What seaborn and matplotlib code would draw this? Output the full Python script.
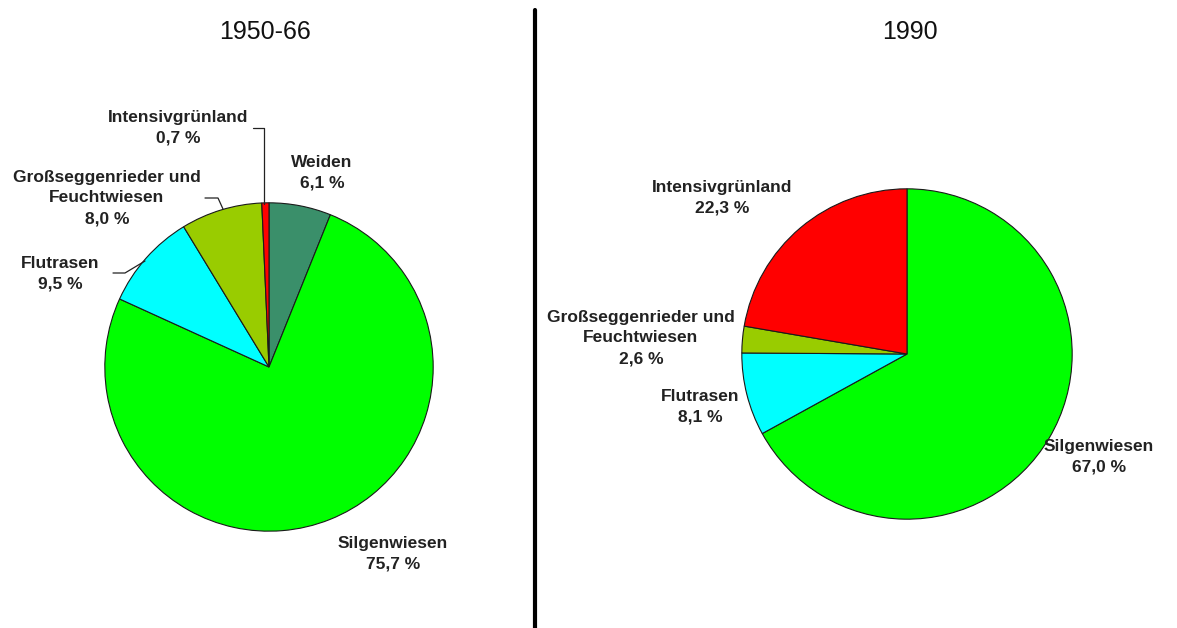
import matplotlib
matplotlib.use("Agg")
import matplotlib.pyplot as plt
from matplotlib.lines import Line2D
import seaborn as sns

sns.set_theme(style="white")
plt.rcParams['font.family'] = ['Liberation Sans', 'DejaVu Sans']

# ---- data ----
titles = ["1950-66", "1990"]
cats_1950 = ["Weiden", "Silgenwiesen", "Flutrasen", "Großseggenrieder und\nFeuchtwiesen", "Intensivgrünland"]
vals_1950 = [6.1, 75.7, 9.5, 8.0, 0.7]
cats_1990 = ["Silgenwiesen", "Flutrasen", "Großseggenrieder und\nFeuchtwiesen", "Intensivgrünland"]
vals_1990 = [67.0, 8.1, 2.6, 22.3]
color_map = {
    "Weiden": "#3A8F6A",
    "Silgenwiesen": "#00FF00",
    "Flutrasen": "#00FFFF",
    "Großseggenrieder und\nFeuchtwiesen": "#99CC00",
    "Intensivgrünland": "#FF0000",
}

W, H = 1177, 628
fig = plt.figure(figsize=(W / 100, H / 100), dpi=100)
fig.patch.set_facecolor("white")


def fx(px):
    return px / W


def fy(py):
    return 1 - py / H


def make_pie(cx, cy, r, cats, vals):
    ax = fig.add_axes([fx(cx - r), fy(cy + r), 2 * r / W, 2 * r / H])
    ax.pie(vals, colors=[color_map[c] for c in cats], startangle=90, counterclock=False,
           radius=1, wedgeprops=dict(edgecolor="#1a1a1a", linewidth=0.8))
    ax.set_xlim(-1.005, 1.005)
    ax.set_ylim(-1.005, 1.005)
    ax.set_aspect("auto")
    ax.axis("off")
    return ax


make_pie(269, 367, 165, cats_1950, vals_1950)
make_pie(907, 354, 166, cats_1990, vals_1990)


def fmt(v):
    return f"{v:.1f}".replace(".", ",") + " %"


lab_kw = dict(ha="center", va="center", fontsize=12.5, fontweight="bold",
              color="#222222", linespacing=1.48, multialignment="center")

# left labels (pixel centre positions)
left_pos = {
    "Intensivgrünland": (178, 128),
    "Weiden": (322, 173),
    "Großseggenrieder und\nFeuchtwiesen": (107, 198),
    "Flutrasen": (60, 274),
    "Silgenwiesen": (393, 554),
}
for c, v in zip(cats_1950, vals_1950):
    x, y = left_pos[c]
    fig.text(fx(x), fy(y), f"{c}\n{fmt(v)}", **lab_kw)

right_pos = {
    "Intensivgrünland": (722, 198),
    "Großseggenrieder und\nFeuchtwiesen": (641, 338),
    "Flutrasen": (700, 407),
    "Silgenwiesen": (1099, 457),
}
for c, v in zip(cats_1990, vals_1990):
    x, y = right_pos[c]
    fig.text(fx(x), fy(y), f"{c}\n{fmt(v)}", **lab_kw)

# leader lines (left chart)
leaders = [
    [(253, 128), (264, 128), (264, 204)],
    [(205, 198), (218, 198), (223, 209)],
    [(113, 273), (125, 273), (145, 261)],
]
for pts in leaders:
    fig.add_artist(Line2D([fx(p[0]) for p in pts], [fy(p[1]) for p in pts],
                          color="#222222", linewidth=0.9))

# titles
fig.text(fx(265), fy(32), titles[0], ha="center", va="center", fontsize=18, color="#111111")
fig.text(fx(910), fy(32), titles[1], ha="center", va="center", fontsize=18, color="#111111")

# separator
fig.add_artist(Line2D([fx(535), fx(535)], [fy(10), 0], color="black", linewidth=3))

fig.savefig("out.png", dpi=100, facecolor="white")
